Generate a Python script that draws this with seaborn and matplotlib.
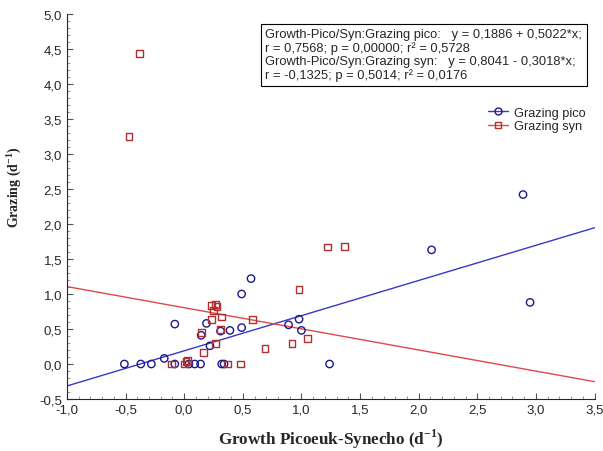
import numpy as np
import pandas as pd
import matplotlib.pyplot as plt
import seaborn as sns
from matplotlib.lines import Line2D
from matplotlib.ticker import FixedLocator, MultipleLocator

# Growth (d-1) vs grazing (d-1), pico and syn
pico_x = [-0.51, -0.37, -0.28, -0.17, -0.08, -0.08, 0.04, 0.09, 0.14, 0.145,
          0.19, 0.22, 0.31, 0.32, 0.34, 0.39, 0.49, 0.49, 0.57, 0.89,
          0.98, 1.00, 1.24, 2.11, 2.89, 2.95]
pico_y = [0.0, 0.0, 0.0, 0.08, 0.57, 0.0, 0.0, 0.0, 0.0, 0.41,
          0.58, 0.26, 0.47, 0.0, 0.0, 0.48, 1.00, 0.52, 1.22, 0.56,
          0.64, 0.48, 0.0, 1.63, 2.42, 0.88]

syn_x = [-0.47, -0.38, -0.11, 0.0, 0.015, 0.03, 0.145, 0.165, 0.23, 0.23,
         0.25, 0.27, 0.28, 0.27, 0.31, 0.32, 0.37, 0.48, 0.58, 0.69,
         0.92, 0.98, 1.05, 1.22, 1.37]
syn_y = [3.25, 4.44, 0.0, 0.0, 0.04, 0.05, 0.45, 0.17, 0.63, 0.83,
         0.76, 0.85, 0.82, 0.29, 0.49, 0.67, 0.0, 0.0, 0.63, 0.22,
         0.29, 1.06, 0.37, 1.67, 1.68]

# fitted lines as printed on the chart
fit_intercept = {'pico': 0.1886, 'syn': 0.8041}
fit_slope = {'pico': 0.5022, 'syn': -0.3018}
fit_x = [-1.0, 3.5]

x_ticks = [-1.0, -0.5, 0.0, 0.5, 1.0, 1.5, 2.0, 2.5, 3.0, 3.5]
y_ticks = [-0.5, 0.0, 0.5, 1.0, 1.5, 2.0, 2.5, 3.0, 3.5, 4.0, 4.5, 5.0]

stats_text = ('Growth-Pico/Syn:Grazing pico:   y = 0,1886 + 0,5022*x;\n'
              'r = 0,7568; p = 0,00000; r² = 0,5728\n'
              'Growth-Pico/Syn:Grazing syn:   y = 0,8041 - 0,3018*x;\n'
              'r = -0,1325; p = 0,5014; r² = 0,0176')

blue_pt = '#1a1a8c'
red_pt = '#b03030'
blue_ln = '#3838c8'
red_ln = '#e04848'

sns.set_style('ticks')
plt.rcParams['font.family'] = ['Liberation Sans', 'DejaVu Sans']
plt.rcParams['mathtext.fontset'] = 'custom'
plt.rcParams['mathtext.rm'] = 'Liberation Serif:bold'
plt.rcParams['mathtext.bf'] = 'Liberation Serif:bold'

fig = plt.figure(figsize=(6.03, 4.52), dpi=100)
ax = fig.add_axes([0.111, 0.115, 0.875, 0.852])

pico = pd.DataFrame({'x': pico_x, 'y': pico_y})
syn = pd.DataFrame({'x': syn_x, 'y': syn_y})

for key, col in [('pico', blue_ln), ('syn', red_ln)]:
    line = pd.DataFrame({'x': fit_x})
    line['y'] = fit_intercept[key] + fit_slope[key] * line['x']
    sns.lineplot(x='x', y='y', data=line, color=col, linewidth=1, ax=ax)

sns.scatterplot(x='x', y='y', data=pico, marker='o', s=28, facecolor='none',
                edgecolor=blue_pt, linewidth=1, ax=ax, zorder=3)
sns.scatterplot(x='x', y='y', data=syn, marker='s', s=24, facecolor='none',
                edgecolor=red_pt, linewidth=1, ax=ax, zorder=3)

ax.set_xlim(-1.0, 3.5)
ax.set_ylim(-0.5, 5.0)
ax.xaxis.set_major_locator(FixedLocator(x_ticks))
ax.yaxis.set_major_locator(FixedLocator(y_ticks))
ax.set_xticklabels([f'{v:.1f}'.replace('.', ',') for v in x_ticks], fontsize=9.5)
ax.set_yticklabels([f'{v:.1f}'.replace('.', ',') for v in y_ticks], fontsize=9.5)
ax.xaxis.set_minor_locator(MultipleLocator(0.1))
ax.yaxis.set_minor_locator(MultipleLocator(0.1))
ax.tick_params(which='major', direction='in', length=4, width=0.8, color='#555555')
ax.tick_params(which='minor', direction='in', length=2, width=0.6, color='#888888')
sns.despine(ax=ax)
for s in ['left', 'bottom']:
    ax.spines[s].set_linewidth(0.8)

ax.set_xlabel('Growth Picoeuk-Synecho (d$^{-1}$)', family='Liberation Serif',
              fontweight='bold', fontsize=12.3, labelpad=8)
ax.set_ylabel('Grazing (d$^{-1}$)', family='Liberation Serif',
              fontweight='bold', fontsize=10, labelpad=10)
ax.yaxis.set_label_coords(-0.083, 0.553)

ax.text(0.376, 0.963, stats_text, transform=ax.transAxes, fontsize=9.3,
        va='top', ha='left', linespacing=1.12,
        bbox=dict(boxstyle='square,pad=0.35', facecolor='white', edgecolor='black', linewidth=0.8))

handles = [Line2D([], [], color=blue_ln, marker='o', markerfacecolor='none',
                  markeredgecolor=blue_pt, markersize=5, linewidth=1),
           Line2D([], [], color=red_ln, marker='s', markerfacecolor='none',
                  markeredgecolor=red_pt, markersize=4.5, linewidth=1)]
ax.legend(handles, ['Grazing pico', 'Grazing syn'], loc='upper left',
          bbox_to_anchor=(0.786, 0.775), frameon=False, fontsize=9.2,
          handlelength=1.6, handletextpad=0.4, labelspacing=0.1, borderpad=0)

plt.savefig('out.png', dpi=100)
